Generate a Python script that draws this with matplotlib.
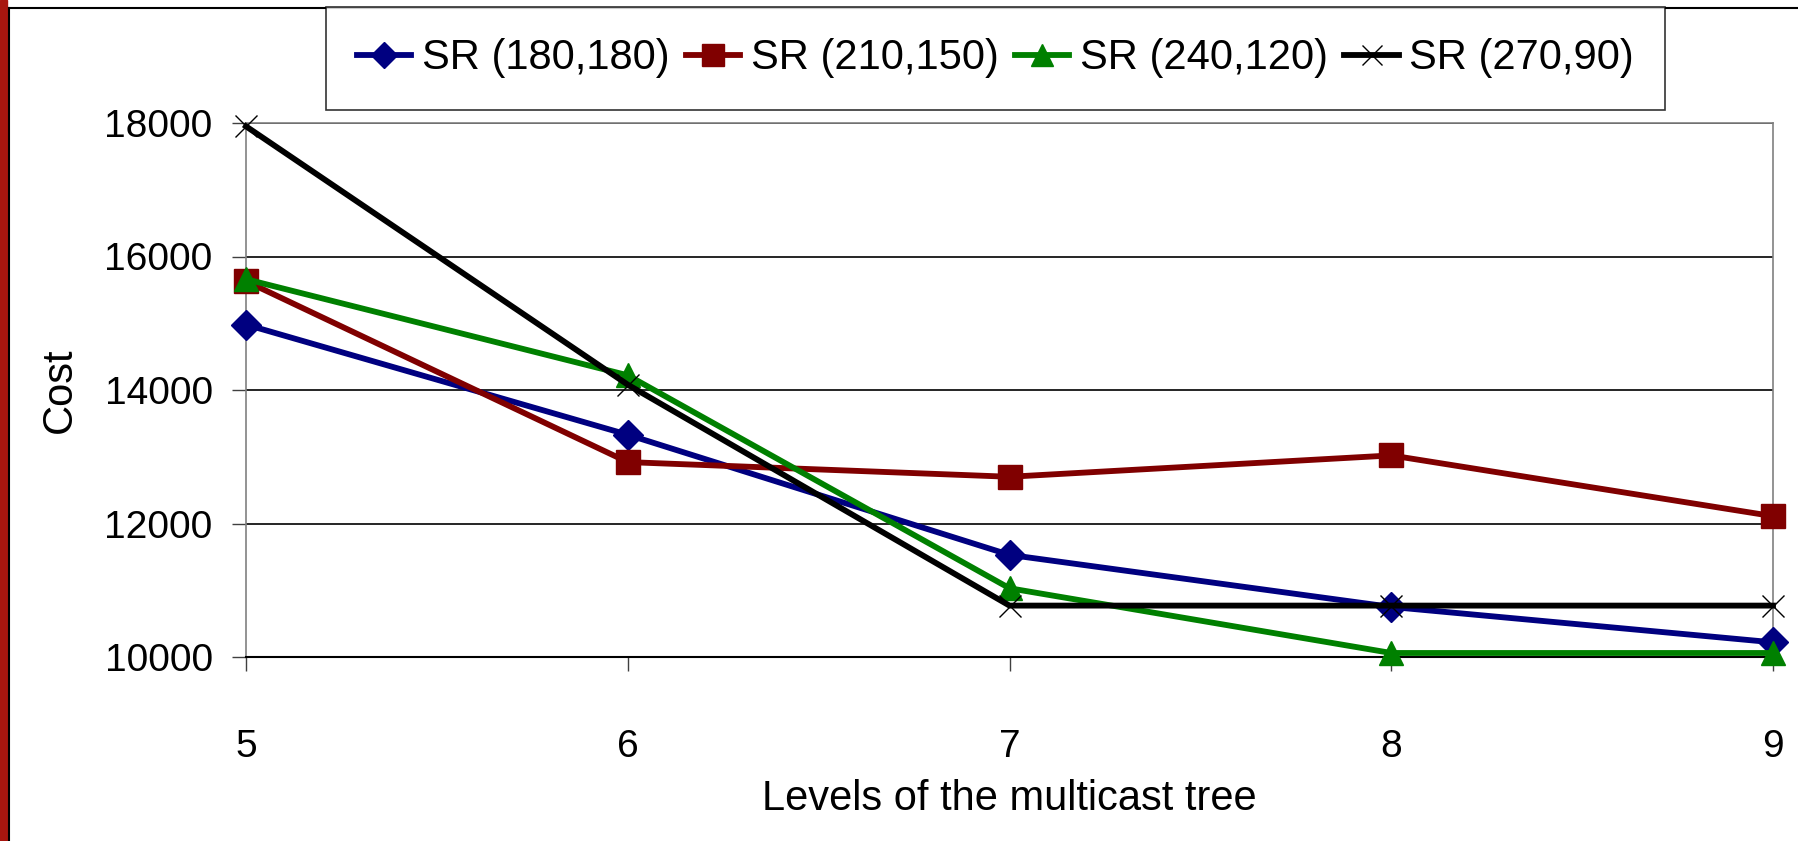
import matplotlib.pyplot as plt
from matplotlib.patches import Rectangle

# Datos
levels = [5, 6, 7, 8, 9]
sr_180_180 = [14980, 13330, 11530, 10750, 10220]
sr_210_150 = [15630, 12920, 12700, 13020, 12110]
sr_240_120 = [15660, 14220, 11030, 10060, 10060]
sr_270_90 = [17950, 14080, 10770, 10770, 10770]
labels = ['SR (180,180)', 'SR (210,150)', 'SR (240,120)', 'SR (270,90)']
yticks = [10000, 12000, 14000, 16000, 18000]

plt.rcParams['font.family'] = ['Liberation Sans', 'DejaVu Sans']

W, H = 1798, 841
fig = plt.figure(figsize=(W / 100, H / 100), dpi=100)
ax = fig.add_axes([246 / W, 1 - 657 / H, (1773 - 246) / W, (657 - 123) / H])

ax.plot(levels, sr_180_180, color='#000080', lw=4.2, marker='D', ms=15,
        label=labels[0], clip_on=False, zorder=3)
ax.plot(levels, sr_210_150, color='#800000', lw=4.2, marker='s', ms=17,
        label=labels[1], clip_on=False, zorder=3)
ax.plot(levels, sr_240_120, color='#008000', lw=4.2, marker='^', ms=17,
        label=labels[2], clip_on=False, zorder=3)
ax.plot(levels, sr_270_90, color='black', lw=4.2, marker='x', ms=16, mew=1,
        label=labels[3], clip_on=False, zorder=4)

ax.set_xlim(5, 9)
ax.set_ylim(10000, 18000)
ax.set_xticks(levels)
ax.set_yticks(yticks)
ax.tick_params(labelsize=28, length=10, width=1, color='#404040')
ax.tick_params(axis='x', pad=42)
ax.tick_params(axis='y', pad=14)
ax.grid(axis='y', color='black', lw=1.2)
ax.set_axisbelow(True)
for s in ['top', 'right', 'left']:
    ax.spines[s].set_color('#808080')
    ax.spines[s].set_linewidth(1.2)
ax.spines['bottom'].set_color('black')
ax.spines['bottom'].set_linewidth(1.5)

ax.set_xlabel('Levels of the multicast tree', fontsize=30, labelpad=10)
ax.set_ylabel('Cost', fontsize=30, labelpad=18)

leg = fig.legend(loc='center', bbox_to_anchor=((328 + 1663) / 2 / W, 1 - (8 + 109) / 2 / H),
                 ncol=4, fontsize=30, frameon=True, fancybox=False,
                 handlelength=1.3, handletextpad=0.25,
                 columnspacing=0.4, borderpad=0.75, markerscale=0.9)
leg.get_frame().set_edgecolor('black')
leg.get_frame().set_linewidth(1.2)

# Borde de la figura
fig.patches.append(Rectangle((0, 0), 7 / W, 1, transform=fig.transFigure,
                             color='#a8160f', zorder=0))
fig.add_artist(plt.Line2D([8.5 / W, 8.5 / W], [0, 1 - 8 / H], color='black', lw=1.5))
fig.add_artist(plt.Line2D([8.5 / W, 1], [1 - 8 / H, 1 - 8 / H], color='black', lw=1.5))

plt.savefig('out.png', dpi=100)
